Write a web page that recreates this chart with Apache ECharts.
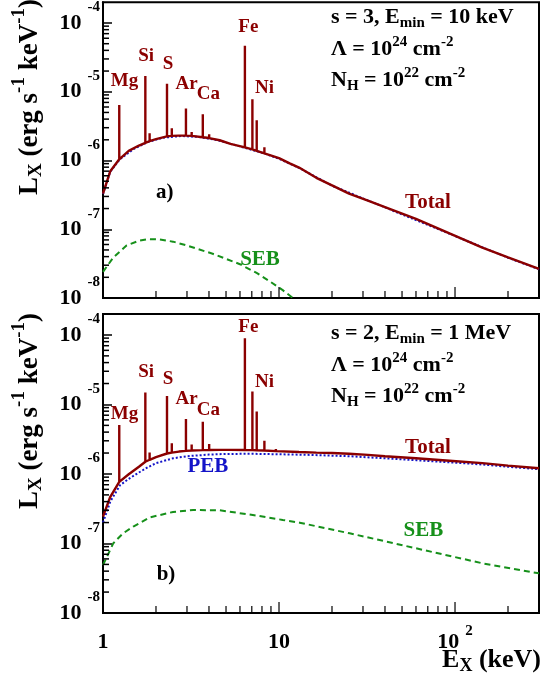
<!DOCTYPE html>
<html><head><meta charset="utf-8">
<script src="https://cdn.jsdelivr.net/npm/echarts@6/dist/echarts.min.js"></script>
<style>html,body{margin:0;padding:0;background:#fff}#c{width:541px;height:686px}</style>
</head><body><div id="c"></div>
<script>
const FONT = '"Liberation Serif", "Times New Roman", serif';
const RED = '#8b0000', GREEN = '#16901a', BLUE = '#1414c8';

// axes ranges & ticks
const xMin = 1, xMax = 300;
const yMin = 1e-8, yMax = 2e-4;
const xMajorTicks = [10, 100];
const xMinorTicks = [2,3,4,5,6,7,8,9,20,30,40,50,60,70,80,90,200];
const yMinorTicks = [2e-8,3e-8,4e-8,5e-8,6e-8,7e-8,8e-8,9e-8,
  2e-7,3e-7,4e-7,5e-7,6e-7,7e-7,8e-7,9e-7,
  2e-6,3e-6,4e-6,5e-6,6e-6,7e-6,8e-6,9e-6,
  2e-5,3e-5,4e-5,5e-5,6e-5,7e-5,8e-5,9e-5];

// ---- panel a) s = 3, Emin = 10 keV ----
const contE_a = [1, 1.1, 1.237, 1.4, 1.6, 1.74, 1.84, 2.0, 2.31, 2.46, 2.7, 2.96, 3.19, 3.69, 4.01, 4.6, 5.3, 6.4, 7.06, 7.47, 8.26, 10, 11.5, 13, 16.3, 20, 25, 32, 40, 60, 93, 143, 200, 300];
const total_a = [3.3e-7, 7.0e-7, 1.04e-6, 1.38e-6, 1.65e-6, 1.81e-6, 1.91e-6, 2.05e-6, 2.24e-6, 2.28e-6, 2.3e-6, 2.3e-6, 2.28e-6, 2.18e-6, 2.12e-6, 1.97e-6, 1.75e-6, 1.55e-6, 1.45e-6, 1.38e-6, 1.27e-6, 1.08e-6, 9.1e-7, 7.9e-7, 5.6e-7, 4.35e-7, 3.3e-7, 2.6e-7, 2.1e-7, 1.42e-7, 8.7e-8, 5.4e-8, 3.9e-8, 2.65e-8];
const lineE_a = [1.237, 1.74, 1.84, 2.31, 2.46, 2.96, 3.19, 3.69, 4.01, 6.4, 7.06, 7.47, 8.26];
const linePeak_a = [6.4e-6, 1.69e-5, 2.5e-6, 1.31e-5, 2.95e-6, 5.7e-6, 2.6e-6, 4.7e-6, 2.4e-6, 4.68e-5, 7.8e-6, 3.85e-6, 1.56e-6];
const pebE_a = [1, 1.1, 1.25, 1.5, 1.8, 2.2, 2.8, 3.5, 4.5, 6, 8, 10, 13, 20, 40, 93, 200, 300];
const peb_a = [3.25e-7, 6.9e-7, 1.05e-6, 1.48e-6, 1.86e-6, 2.15e-6, 2.27e-6, 2.2e-6, 1.97e-6, 1.6e-6, 1.3e-6, 1.06e-6, 7.8e-7, 4.3e-7, 2.08e-7, 8.6e-8, 3.85e-8, 2.62e-8];
const sebE_a = [1, 1.145, 1.36, 1.6, 1.8, 2.1, 2.5, 3.0, 4.2, 6.0, 7.5, 9, 10.5, 12, 14];
const seb_a = [2.4e-8, 3.9e-8, 5.8e-8, 6.8e-8, 7.2e-8, 7.1e-8, 6.6e-8, 5.8e-8, 4.4e-8, 3.1e-8, 2.3e-8, 1.7e-8, 1.3e-8, 1.0e-8, 7.5e-9];

// ---- panel b) s = 2, Emin = 1 MeV ----
const contE_b = [1, 1.1, 1.237, 1.4, 1.6, 1.74, 1.84, 2.0, 2.31, 2.46, 2.7, 2.96, 3.19, 3.69, 4.01, 4.6, 5.3, 6.4, 7.06, 7.47, 8.26, 9.6, 13, 16.3, 20, 25, 32, 40, 60, 93, 143, 200, 300];
const total_b = [2.43e-7, 4.7e-7, 7.7e-7, 9.9e-7, 1.27e-6, 1.5e-6, 1.6e-6, 1.75e-6, 1.97e-6, 2.03e-6, 2.1e-6, 2.15e-6, 2.18e-6, 2.2e-6, 2.21e-6, 2.22e-6, 2.22e-6, 2.21e-6, 2.2e-6, 2.19e-6, 2.17e-6, 2.13e-6, 2.07e-6, 2.03e-6, 2.0e-6, 1.95e-6, 1.88e-6, 1.8e-6, 1.68e-6, 1.55e-6, 1.43e-6, 1.32e-6, 1.21e-6];
const lineE_b = [1.237, 1.74, 1.84, 2.31, 2.46, 2.96, 3.19, 3.69, 4.01, 6.4, 7.06, 7.47, 8.26, 9.6];
const linePeak_b = [5.07e-6, 1.48e-5, 2.03e-6, 1.32e-5, 2.77e-6, 6.18e-6, 2.65e-6, 5.66e-6, 2.7e-6, 8.97e-5, 1.53e-5, 7.9e-6, 3.0e-6, 2.29e-6];
const pebE_b = [1, 1.1, 1.25, 1.4, 1.6, 1.8, 2.0, 2.5, 3.0, 4.0, 5.0, 7.0, 10, 15, 25, 40, 60, 93, 143, 200, 300];
const peb_b = [2.0e-7, 4.0e-7, 6.9e-7, 8.5e-7, 1.05e-6, 1.25e-6, 1.43e-6, 1.68e-6, 1.8e-6, 1.9e-6, 1.94e-6, 1.95e-6, 1.92e-6, 1.88e-6, 1.8e-6, 1.68e-6, 1.58e-6, 1.47e-6, 1.37e-6, 1.27e-6, 1.17e-6];
const sebE_b = [1, 1.145, 1.3, 1.486, 1.85, 2.5, 3.25, 4.6, 7.1, 10.5, 13.1, 25.2, 60, 143, 300];
const seb_b = [4.9e-8, 1.01e-7, 1.4e-7, 1.75e-7, 2.38e-7, 2.84e-7, 3.03e-7, 3.0e-7, 2.57e-7, 2.18e-7, 1.99e-7, 1.4e-7, 8.53e-8, 5.19e-8, 3.72e-8];

const elements = ['Mg', 'Si', 'S', 'Ar', 'Ca', 'Fe', 'Ni'];

// ---------- build ----------
function pairs(xs, ys) { return xs.map((x, i) => [x, ys[i]]); }
function totalWithLines(cE, cV, lE, lP) {
  const out = [];
  cE.forEach((e, i) => {
    out.push([e, cV[i]]);
    const k = lE.indexOf(e);
    if (k >= 0) { out.push([e, lP[k]]); out.push([e, cV[i]]); }
  });
  return out;
}

const yRich = {
  b: {fontFamily: FONT, fontWeight: 'bold', fontSize: 22, lineHeight: 22, padding: [12, 0, 12, 0], color: '#000'},
  e: {fontFamily: FONT, fontWeight: 'bold', fontSize: 15, lineHeight: 15, padding: [0, 0, 31, 6], color: '#000'}
};
const xRich = {
  b: {fontFamily: FONT, fontWeight: 'bold', fontSize: 22, lineHeight: 22, padding: [12, 0, 12, 0], color: '#000'},
  e: {fontFamily: FONT, fontWeight: 'bold', fontSize: 15, lineHeight: 15, padding: [5, 0, 26, 6], color: '#000'}
};
function isPow10(v) { const e = Math.round(Math.log10(v)); return Math.abs(v / Math.pow(10, e) - 1) < 1e-6 ? e : null; }
function yFmt(v) { const e = isPow10(v); return e === null ? '' : '{b|10}{e|' + e + '}'; }
function xFmt(v) {
  const e = isPow10(v);
  if (e === null) return '';
  if (e === 0) return '{b|1}';
  if (e === 1) return '{b|10}';
  return '{b|10}{e|' + e + '}';
}

const grids = [
  {left: 103, top: 1, width: 436, height: 297},
  {left: 103, top: 314, width: 436, height: 299}
].map(g => Object.assign(g, {show: true, borderColor: '#000', borderWidth: 2, backgroundColor: 'transparent', containLabel: false}));

function xAx(gi, labels) {
  return {gridIndex: gi, type: 'log', logBase: 10, min: xMin, max: xMax,
    axisLine: {show: false}, splitLine: {show: false}, axisTick: {show: false},
    axisLabel: {show: labels, formatter: xFmt, rich: xRich, margin: 18, showMaxLabel: false}};
}
function yAx(gi) {
  return {gridIndex: gi, type: 'log', logBase: 10, min: yMin, max: yMax,
    axisLine: {show: true, lineStyle: {color: '#000', width: 2}}, splitLine: {show: false},
    axisTick: {show: true, inside: true, length: 9, lineStyle: {color: '#000', width: 1.5}},
    axisLabel: {show: true, formatter: yFmt, rich: yRich, margin: 3, showMaxLabel: false}};
}
function lineS(gi, data, color, width, type, z) {
  return {type: 'line', xAxisIndex: gi, yAxisIndex: gi, data, showSymbol: false, symbol: 'none', clip: true, z,
    lineStyle: {color, width, type}, silent: true};
}
// x tick marks drawn as thin rect symbols anchored on the axis via the axis scales
function xTicks(gi, vals, len) {
  return {type: 'scatter', xAxisIndex: gi, yAxisIndex: gi, silent: true, clip: false, z: 6,
    data: vals.map(v => [v, yMin]), symbol: 'rect', symbolSize: [1.5, len], symbolOffset: [0, -len / 2],
    itemStyle: {color: '#000'}};
}

const series = [
  lineS(0, pairs(sebE_a, seb_a), GREEN, 2, [6, 4], 2),
  lineS(0, pairs(pebE_a, peb_a), BLUE, 2, [2, 2], 3),
  lineS(0, totalWithLines(contE_a, total_a, lineE_a, linePeak_a), RED, 2.4, 'solid', 4),
  lineS(1, pairs(sebE_b, seb_b), GREEN, 2, [6, 4], 2),
  lineS(1, pairs(pebE_b, peb_b), BLUE, 2, [2, 2], 3),
  lineS(1, totalWithLines(contE_b, total_b, lineE_b, linePeak_b), RED, 2.4, 'solid', 4)
];
[0, 1].forEach(gi => {
  series.push(xTicks(gi, xMajorTicks, 11), xTicks(gi, xMinorTicks, 7));
});

// ---------- annotation text ----------
function tx(x, y, text, opt) {
  return Object.assign({type: 'text', x, y, silent: true, z: 100, style: Object.assign({
    text, fill: '#000', fontFamily: FONT, fontWeight: 'bold', fontSize: 21, align: 'center', verticalAlign: 'middle'}, opt.style || {})}, opt.el || {});
}
const annRich = {
  n: {fontFamily: FONT, fontWeight: 'bold', fontSize: 22, lineHeight: 22, padding: [8, 0, 8, 0], fill: '#000'},
  sup: {fontFamily: FONT, fontWeight: 'bold', fontSize: 15, lineHeight: 15, padding: [4, 0, 19, 0], fill: '#000'},
  sub: {fontFamily: FONT, fontWeight: 'bold', fontSize: 15, lineHeight: 15, padding: [17, 0, 6, 0], fill: '#000'}
};
function paramBlock(dy, sVal, eVal) {
  return [
    tx(331, 17.5 + dy, '{n|s = ' + sVal + ', E}{sub|min}{n| = ' + eVal + '}', {style: {align: 'left', rich: annRich}}),
    tx(331, 49.5 + dy, '{n|\u039B = 10}{sup|24}{n| cm}{sup|-2}', {style: {align: 'left', rich: annRich}}),
    tx(331, 80.5 + dy, '{n|N}{sub|H}{n| = 10}{sup|22}{n| cm}{sup|-2}', {style: {align: 'left', rich: annRich}})
  ];
}
const elemPos_a = [[124.5, 81], [146.2, 56.5], [168, 64], [186.7, 84], [208.3, 94], [248.3, 26.7], [264.5, 88.3]];
const elemPos_b = [[124.5, 414.5], [146.2, 371.7], [168, 379], [186.7, 399], [208.3, 409.7], [248.3, 327.5], [264.5, 382.5]];
function elemLabels(pos) {
  return elements.map((el, i) => tx(pos[i][0], pos[i][1], el, {style: {fill: RED, fontSize: 19}}));
}
const titleRich = {
  n: {fontFamily: FONT, fontWeight: 'bold', fontSize: 27, lineHeight: 28, padding: [10, 0, 10, 0], fill: '#000'},
  sup: {fontFamily: FONT, fontWeight: 'bold', fontSize: 19, lineHeight: 19, padding: [4, 0, 25, 0], fill: '#000'},
  sub: {fontFamily: FONT, fontWeight: 'bold', fontSize: 19, lineHeight: 19, padding: [21, 0, 8, 0], fill: '#000'}
};
const xTitleRich = {
  n: {fontFamily: FONT, fontWeight: 'bold', fontSize: 26, lineHeight: 26, padding: [10, 0, 10, 0], fill: '#000'},
  sub: {fontFamily: FONT, fontWeight: 'bold', fontSize: 18, lineHeight: 18, padding: [20, 0, 8, 0], fill: '#000'}
};
const yTitle = '{n|L}{sub|X}{n| (erg s}{sup|-1}{n| keV}{sup|-1}{n|)}';
const graphics = [].concat(
  paramBlock(0, '3', '10 keV'),
  paramBlock(316, '2', '1 MeV'),
  elemLabels(elemPos_a),
  elemLabels(elemPos_b),
  [
    tx(428, 203, 'Total', {style: {fill: RED}}),
    tx(260, 260, 'SEB', {style: {fill: GREEN}}),
    tx(164.7, 192.5, 'a)', {}),
    tx(428, 448, 'Total', {style: {fill: RED}}),
    tx(423.3, 530.5, 'SEB', {style: {fill: GREEN}}),
    tx(207.8, 466.3, 'PEB', {style: {fill: BLUE}}),
    tx(166, 575, 'b)', {}),
    tx(30, -1, yTitle, {style: {align: 'right', rich: titleRich}, el: {rotation: Math.PI / 2}}),
    tx(30, 313, yTitle, {style: {align: 'right', rich: titleRich}, el: {rotation: Math.PI / 2}}),
    tx(541, 660, '{n|E}{sub|X}{n| (keV)}', {style: {align: 'right', rich: xTitleRich}})
  ]
);

const chart = echarts.init(document.getElementById('c'), null, {renderer: 'canvas'});
chart.setOption({
  animation: false,
  backgroundColor: '#fff',
  grid: grids,
  xAxis: [xAx(0, false), xAx(1, true)],
  yAxis: [yAx(0), yAx(1)],
  series,
  graphic: {elements: graphics}
});

// y minor ticks: positions obtained from the library's own axis scales
const yTickEls = [];
[0, 1].forEach(gi => {
  yMinorTicks.forEach(v => {
    const p = chart.convertToPixel({gridIndex: gi}, [xMin, v]);
    if (p && isFinite(p[0]) && isFinite(p[1])) {
      yTickEls.push({type: 'line', silent: true, z: 50,
        shape: {x1: p[0], y1: p[1], x2: p[0] + 6, y2: p[1]},
        style: {stroke: '#000', lineWidth: 1.5}});
    }
  });
});
chart.setOption({graphic: {elements: graphics.concat(yTickEls)}});
</script></body></html>
